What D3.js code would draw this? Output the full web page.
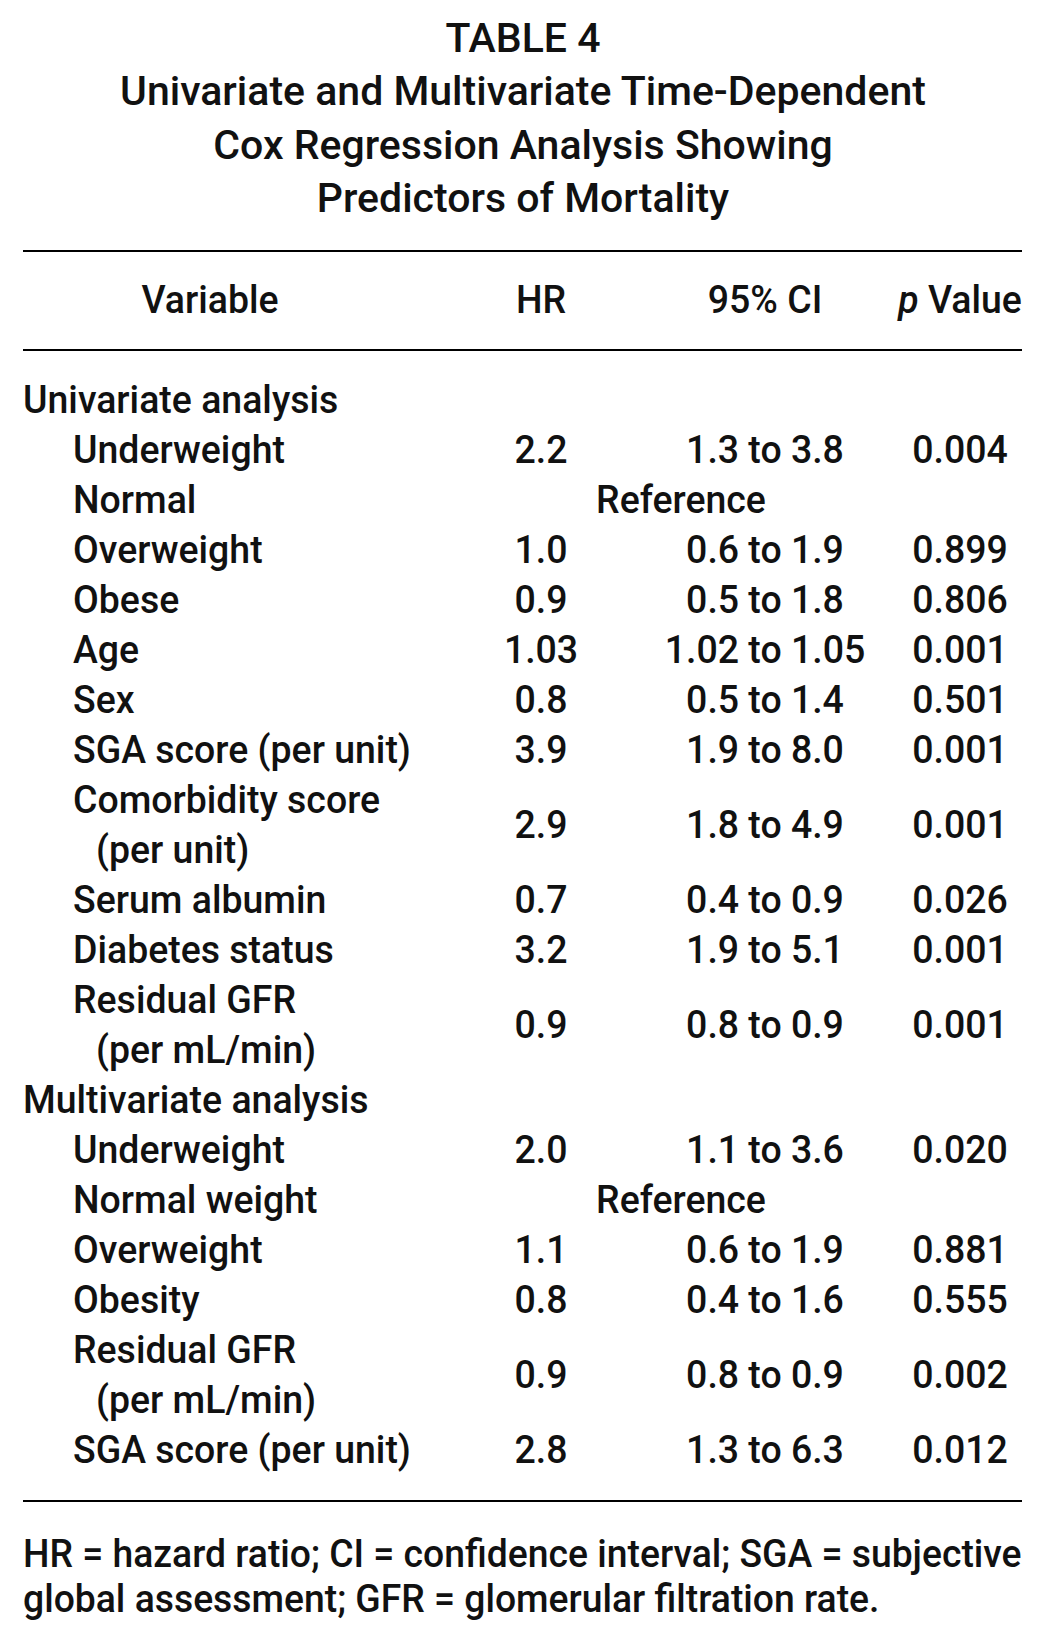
<!DOCTYPE html>
<html><head><meta charset="utf-8">
<script src="https://cdn.jsdelivr.net/npm/d3@7"></script>
<style>body{margin:0;background:#fff}svg{display:block}</style>
</head><body>
<script>
// ---- data ----
const titleLines = ["TABLE 4", "Univariate and Multivariate Time-Dependent", "Cox Regression Analysis Showing", "Predictors of Mortality"];
const columnHeaders = ["Variable", "HR", "95% CI", "Value"];
const sectionLabels = ["Univariate analysis", "Multivariate analysis"];

const uniVariables = ["Underweight", "Normal", "Overweight", "Obese", "Age", "Sex", "SGA score (per unit)", "Comorbidity score|(per unit)", "Serum albumin", "Diabetes status", "Residual GFR|(per mL/min)"];
const uniHR = ["2.2", null, "1.0", "0.9", "1.03", "0.8", "3.9", "2.9", "0.7", "3.2", "0.9"];
const uniCI = ["1.3 to 3.8", "Reference", "0.6 to 1.9", "0.5 to 1.8", "1.02 to 1.05", "0.5 to 1.4", "1.9 to 8.0", "1.8 to 4.9", "0.4 to 0.9", "1.9 to 5.1", "0.8 to 0.9"];
const uniP = ["0.004", null, "0.899", "0.806", "0.001", "0.501", "0.001", "0.001", "0.026", "0.001", "0.001"];

const multiVariables = ["Underweight", "Normal weight", "Overweight", "Obesity", "Residual GFR|(per mL/min)", "SGA score (per unit)"];
const multiHR = ["2.0", null, "1.1", "0.8", "0.9", "2.8"];
const multiCI = ["1.1 to 3.6", "Reference", "0.6 to 1.9", "0.4 to 1.6", "0.8 to 0.9", "1.3 to 6.3"];
const multiP = ["0.020", null, "0.881", "0.555", "0.002", "0.012"];

const footnoteLines = ["HR = hazard ratio; CI = confidence interval; SGA = subjective", "global assessment; GFR = glomerular filtration rate."];

// ---- layout ----
const W = 1046, H = 1640;
const FONT = "Roboto, 'Noto Sans', sans-serif";
const WEIGHT = 500;
const svg = d3.select("body").append("svg").attr("width", W).attr("height", H);

function measure(str, size) {
  const t = svg.append("text").attr("font-family", FONT).attr("font-size", size)
    .attr("font-weight", WEIGHT).text(str);
  const w = t.node().getComputedTextLength();
  t.remove();
  return w;
}
function put(str, x, y, anchor, size, sx) {
  const g = svg.append("g").attr("transform", `translate(${x},${y}) scale(${sx},1)`);
  return g.append("text").attr("font-family", FONT).attr("font-size", size)
    .attr("font-weight", WEIGHT).attr("fill", "#111").attr("text-anchor", anchor).text(str);
}

const bodySize = 39, titleSize = 40, footSize = 38;
const sxBody = 212 / measure("Underweight", bodySize);
const sxTitle = 806 / measure(titleLines[1], titleSize);
const sxFoot = 999 / measure(footnoteLines[0], footSize);

// title
const titleY = d3.scaleLinear().domain([0, 3]).range([52, 212]);
titleLines.forEach((s, i) => put(s, W / 2, titleY(i), "middle", titleSize, sxTitle));

// rules
const xRule = d3.scaleLinear().domain([0, 1]).range([23, 1022]);
[251, 350, 1501].forEach(y => svg.append("line").attr("x1", xRule(0)).attr("x2", xRule(1))
  .attr("y1", y).attr("y2", y).attr("stroke", "#000").attr("stroke-width", 2));

// columns
const colX = { label: 73, cont: 96, section: 23, hr: 541, ci: 765, p: 960, ref: 681 };
const headerX = [210, 541, 765, 960];
const headerY = 313;
columnHeaders.forEach((h, i) => {
  const t = put(i === 3 ? "" : h, headerX[i], headerY, "middle", bodySize, sxBody);
  if (i === 3) {
    t.append("tspan").attr("font-style", "italic").text("p");
    t.append("tspan").text(" " + h);
  }
});

// body
const lineY = d3.scaleLinear().domain([0, 21]).range([413, 1463]);
let line = 0;
const sections = [
  [sectionLabels[0], uniVariables, uniHR, uniCI, uniP],
  [sectionLabels[1], multiVariables, multiHR, multiCI, multiP]
];
sections.forEach(([label, vars, hr, ci, p]) => {
  put(label, colX.section, lineY(line), "start", bodySize, sxBody);
  line++;
  vars.forEach((v, i) => {
    const parts = v.split("|");
    parts.forEach((s, k) => put(s, k === 0 ? colX.label : colX.cont, lineY(line + k), "start", bodySize, sxBody));
    const yv = (lineY(line) + lineY(line + parts.length - 1)) / 2;
    if (hr[i] === null) {
      put(ci[i], colX.ref, yv, "middle", bodySize, sxBody);
    } else {
      put(hr[i], colX.hr, yv, "middle", bodySize, sxBody);
      put(ci[i], colX.ci, yv, "middle", bodySize, sxBody);
      put(p[i], colX.p, yv, "middle", bodySize, sxBody);
    }
    line += parts.length;
  });
});

// footnote
const footY = d3.scaleLinear().domain([0, 1]).range([1567, 1612]);
footnoteLines.forEach((s, i) => put(s, 23, footY(i), "start", footSize, sxFoot));
</script>
</body></html>
